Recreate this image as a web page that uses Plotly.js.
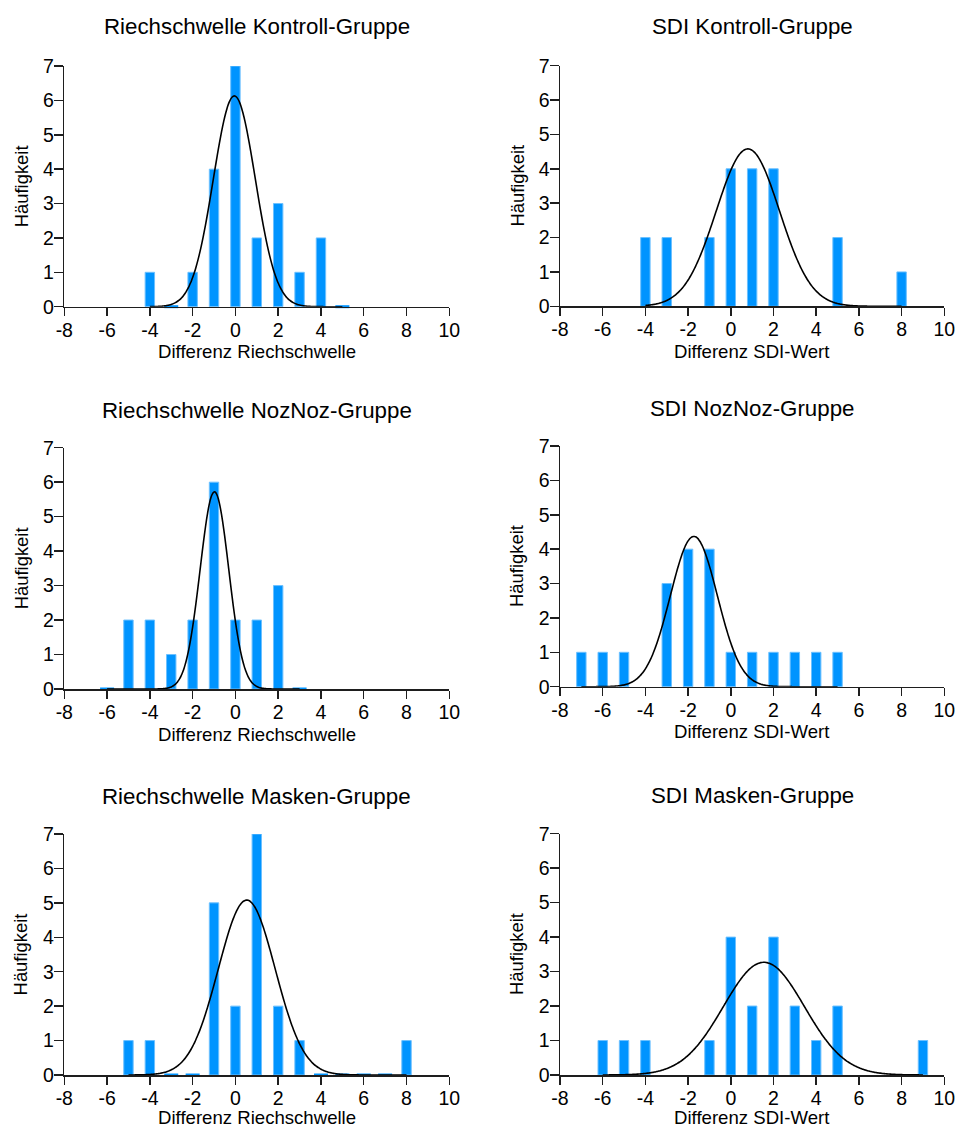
<!DOCTYPE html>
<html>
<head>
<meta charset="utf-8">
<script src="https://cdn.plot.ly/plotly-3.0.1.min.js"></script>
<style>html,body{margin:0;padding:0;background:#fff;}#chart{width:955px;height:1129px;}</style>
</head>
<body>
<div id="chart"></div>
<script>
// ---- data ----
const riechKontrollBins   = [-4, -3, -2, -1, 0, 1, 2, 3, 4, 5];
const riechKontrollCounts = [ 1,  0,  1,  4, 7, 2, 3, 1, 2, 0];

const sdiKontrollBins   = [-4, -3, -1, 0, 1, 2, 5, 8];
const sdiKontrollCounts = [ 2,  2,  2, 4, 4, 4, 2, 1];

const riechNozNozBins   = [-6, -5, -4, -3, -2, -1, 0, 1, 2, 3];
const riechNozNozCounts = [ 0,  2,  2,  1,  2,  6, 2, 2, 3, 0];

const sdiNozNozBins   = [-7, -6, -5, -3, -2, -1, 0, 1, 2, 3, 4, 5];
const sdiNozNozCounts = [ 1,  1,  1,  3,  4,  4, 1, 1, 1, 1, 1, 1];

const riechMaskenBins   = [-5, -4, -3, -2, -1, 0, 1, 2, 3, 4, 5, 6, 7, 8];
const riechMaskenCounts = [ 1,  1,  0,  0,  5, 2, 7, 2, 1, 0, 0, 0, 0, 1];

const sdiMaskenBins   = [-6, -5, -4, -1, 0, 1, 2, 3, 4, 5, 9];
const sdiMaskenCounts = [ 1,  1,  1,  1, 4, 2, 4, 2, 1, 2, 1];

// Gaussian fit parameters (order: RK, SK, RN, SN, RM, SM)
const fitPeak = [6.13, 4.58, 5.72, 4.37, 5.08, 3.27];
const fitMean = [-0.05, 0.80, -0.98, -1.73, 0.53, 1.55];
const fitSD   = [0.98, 1.48, 0.67, 1.10, 1.33, 1.90];

const panelTitles = ['Riechschwelle Kontroll-Gruppe', 'SDI Kontroll-Gruppe',
                     'Riechschwelle NozNoz-Gruppe', 'SDI NozNoz-Gruppe',
                     'Riechschwelle Masken-Gruppe', 'SDI Masken-Gruppe'];
const xTitles = ['Differenz Riechschwelle', 'Differenz SDI-Wert'];
const yTitle = 'Häufigkeit';
const xTicks = [-8, -6, -4, -2, 0, 2, 4, 6, 8, 10];
const yTicks = [0, 1, 2, 3, 4, 5, 6, 7];

const binsList = [riechKontrollBins, sdiKontrollBins, riechNozNozBins, sdiNozNozBins, riechMaskenBins, sdiMaskenBins];
const countsList = [riechKontrollCounts, sdiKontrollCounts, riechNozNozCounts, sdiNozNozCounts, riechMaskenCounts, sdiMaskenCounts];

// ---- layout geometry (pixels) ----
const W = 955, H = 1129;
const colX = [[64.3, 449.3], [560, 944.3]];
const rowY = [[66, 306.7], [65.7, 306.3], [447.7, 689], [446, 686.7], [834, 1075], [833.7, 1075]];
const titleCapY = [26.5, 26.5, 410, 408, 796.3, 795.8];
const xTitleOffset = [45, 45, 45, 45, 42.5, 42.5];

const FONT = 'Liberation Sans, Arial, Helvetica, sans-serif';
const AXC = '#1e1e1e';
const BAR = '#0094ff';

const traces = [];
const layout = {
  width: W, height: H,
  margin: {l: 0, r: 0, t: 0, b: 0},
  paper_bgcolor: '#fff', plot_bgcolor: '#fff',
  showlegend: false,
  font: {family: FONT, color: '#000'},
  annotations: []
};

for (let i = 0; i < 6; i++) {
  const n = i + 1;
  const col = i % 2;
  const xa = 'x' + (n === 1 ? '' : n), ya = 'y' + (n === 1 ? '' : n);
  const bins = binsList[i], counts = countsList[i];

  traces.push({
    type: 'bar', x: bins, y: counts, xaxis: xa, yaxis: ya,
    width: 0.44,
    marker: {color: BAR, line: {color: '#6cc0ff', width: 1}},
    hoverinfo: 'skip'
  });

  // zero-count bins drawn as flat stubs on the axis
  const zx = bins.filter((b, k) => counts[k] === 0);
  if (zx.length) {
    traces.push({
      type: 'scatter', mode: 'markers', x: zx, y: zx.map(() => 0), xaxis: xa, yaxis: ya,
      marker: {symbol: 'line-ew', size: 10, line: {color: BAR, width: 3}},
      cliponaxis: false, hoverinfo: 'skip'
    });
  }

  // fitted Gaussian curve over the bin range
  const cx = [], cy = [];
  const x0 = bins[0], x1 = bins[bins.length - 1];
  for (let x = x0; x <= x1 + 1e-9; x += 0.05) {
    cx.push(x);
    cy.push(fitPeak[i] * Math.exp(-Math.pow(x - fitMean[i], 2) / (2 * fitSD[i] * fitSD[i])));
  }
  traces.push({
    type: 'scatter', mode: 'lines', x: cx, y: cy, xaxis: xa, yaxis: ya,
    line: {color: '#000', width: 1.6, shape: 'spline'}, hoverinfo: 'skip'
  });

  const xd = [colX[col][0] / W, colX[col][1] / W];
  const yd = [1 - rowY[i][1] / H, 1 - rowY[i][0] / H];

  layout['xaxis' + (n === 1 ? '' : n)] = {
    domain: xd, anchor: ya, range: [-8, 10],
    tickmode: 'array', tickvals: xTicks, ticktext: xTicks.map(String),
    ticks: 'outside', ticklen: 8, tickwidth: 1.5, tickcolor: AXC,
    ticklabelstandoff: -3, ticklabeloverflow: 'allow',
    showline: true, linecolor: AXC, linewidth: 1.5,
    showgrid: false, zeroline: false, fixedrange: true,
    tickfont: {family: FONT, size: 19.5, color: '#000'}
  };
  layout['yaxis' + (n === 1 ? '' : n)] = {
    domain: yd, anchor: xa, range: [0, 7],
    tickmode: 'array', tickvals: yTicks, ticktext: yTicks.map(String),
    ticks: 'outside', ticklen: 9, tickwidth: 1.5, tickcolor: AXC,
    ticklabelstandoff: -4, ticklabeloverflow: 'allow',
    showline: true, linecolor: AXC, linewidth: 1.5,
    showgrid: false, zeroline: false, fixedrange: true,
    tickfont: {family: FONT, size: 19.5, color: '#000'}
  };

  const cxPaper = (xd[0] + xd[1]) / 2;
  layout.annotations.push({
    xref: 'paper', yref: 'paper', x: cxPaper, y: 1 - titleCapY[i] / H,
    xanchor: 'center', yanchor: 'middle', showarrow: false,
    text: panelTitles[i], font: {family: FONT, size: 22.3, color: '#000'}
  });
  layout.annotations.push({
    xref: 'paper', yref: 'paper', x: cxPaper, y: 1 - (rowY[i][1] + xTitleOffset[i]) / H,
    xanchor: 'center', yanchor: 'middle', showarrow: false,
    text: xTitles[col], font: {family: FONT, size: 18.6, color: '#000'}
  });
  layout.annotations.push({
    xref: 'paper', yref: 'paper', x: (colX[col][0] - 43.4) / W, y: 1 - ((rowY[i][0] + rowY[i][1]) / 2) / H,
    xanchor: 'center', yanchor: 'middle', showarrow: false, textangle: -90,
    text: yTitle, font: {family: FONT, size: 18.4, color: '#000'}
  });
}

Plotly.newPlot('chart', traces, layout, {displayModeBar: false, staticPlot: true});
</script>
</body>
</html>
